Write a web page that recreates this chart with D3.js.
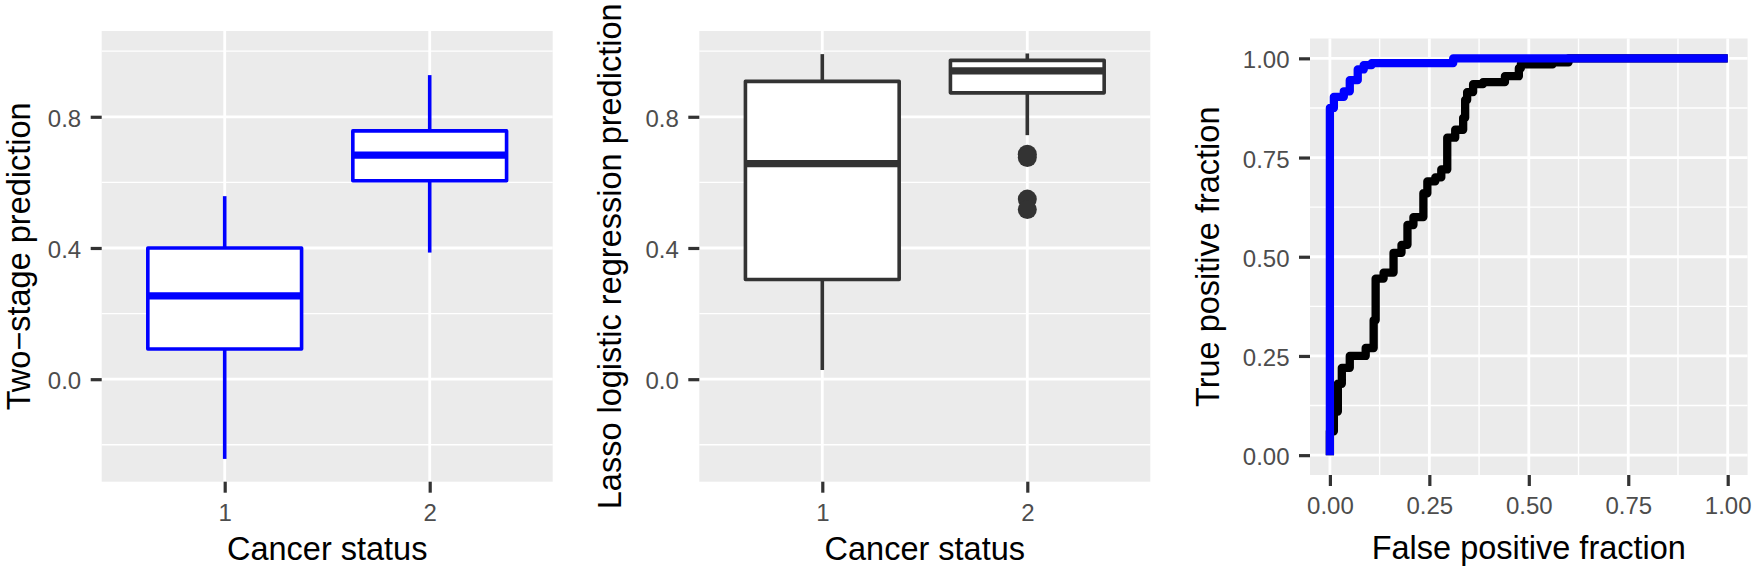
<!DOCTYPE html>
<html>
<head>
<meta charset="utf-8">
<script src="https://cdn.jsdelivr.net/npm/d3@7"></script>
<style>
  html, body { margin: 0; padding: 0; background: #fff; }
  svg { display: block; font-family: "Liberation Sans", Arial, Helvetica, sans-serif; }
</style>
</head>
<body>
<script>
// ---------------- data ----------------
const categories = ["1", "2"];

// Two-stage prediction boxplot (blue)
const twoStageLower  = [-0.243, 0.386];
const twoStageQ1     = [0.092, 0.605];
const twoStageMedian = [0.254, 0.683];
const twoStageQ3     = [0.400, 0.757];
const twoStageUpper  = [0.558, 0.927];

// Lasso logistic regression boxplot (dark grey)
const lassoLower  = [0.028, 0.744];
const lassoQ1     = [0.304, 0.873];
const lassoMedian = [0.657, 0.940];
const lassoQ3     = [0.908, 0.972];
const lassoUpper  = [0.991, 0.993];
const lassoOutlierCategory = ["2", "2", "2", "2"];
const lassoOutlierValues   = [0.686, 0.676, 0.549, 0.517];

const boxYTicks = [0.0, 0.4, 0.8];
const boxYMinor = [-0.2, 0.2, 0.6, 1.0];
const boxYDomain = [-0.3125, 1.0615];

// ROC curves
const rocTicks = [0, 0.25, 0.5, 0.75, 1];
const rocMinor = [0.125, 0.375, 0.625, 0.875];

const rocTwoStageFPR = [0, 0, 0.01, 0.01, 0.035, 0.035, 0.05, 0.05, 0.07, 0.07, 0.085, 0.085, 0.105, 0.105, 0.31, 0.31, 1.0];
const rocTwoStageTPR = [0, 0.875, 0.875, 0.903, 0.903, 0.917, 0.917, 0.945, 0.945, 0.972, 0.972, 0.983, 0.983, 0.988, 0.988, 1.0, 1.0];

const rocLassoFPR = [0, 0, 0.01, 0.01, 0.02, 0.02, 0.03, 0.03, 0.05, 0.05, 0.09, 0.09, 0.11, 0.11, 0.115, 0.115, 0.135, 0.135, 0.16, 0.16, 0.18, 0.18, 0.195, 0.195, 0.21, 0.21, 0.235, 0.235, 0.245, 0.245, 0.265, 0.265, 0.28, 0.28, 0.295, 0.295, 0.315, 0.315, 0.335, 0.335, 0.34, 0.34, 0.345, 0.345, 0.36, 0.36, 0.385, 0.385, 0.44, 0.44, 0.475, 0.475, 0.48, 0.48, 0.56, 0.56, 0.60, 0.60, 1.0];
const rocLassoTPR = [0, 0.06, 0.06, 0.11, 0.11, 0.18, 0.18, 0.22, 0.22, 0.25, 0.25, 0.27, 0.27, 0.34, 0.34, 0.445, 0.445, 0.46, 0.46, 0.51, 0.51, 0.53, 0.53, 0.58, 0.58, 0.60, 0.60, 0.66, 0.66, 0.69, 0.69, 0.70, 0.70, 0.72, 0.72, 0.80, 0.80, 0.82, 0.82, 0.85, 0.85, 0.895, 0.895, 0.915, 0.915, 0.935, 0.935, 0.94, 0.94, 0.955, 0.955, 0.975, 0.975, 0.985, 0.985, 0.99, 0.99, 1.0, 1.0];

// ---------------- layout & style ----------------
const W = 1752, H = 567;
const BG = "#EBEBEB";
const TICK_COL = "#333333";
const TICKLABEL_COL = "#4D4D4D";
const TICK_FS = 24, TITLE_FS = 32.5;
const GRID_MAJOR = 2.8, GRID_MINOR = 1.4;
const TICK_LEN = 11, TICK_W = 3.2;

const svg = d3.select("body").append("svg")
  .attr("width", W).attr("height", H)
  .attr("viewBox", `0 0 ${W} ${H}`);

svg.append("rect").attr("width", W).attr("height", H).attr("fill", "#fff");

function styleAxis(g) {
  g.select(".domain").remove();
  g.selectAll(".tick line").attr("stroke", TICK_COL).attr("stroke-width", TICK_W);
  g.selectAll(".tick text").attr("fill", TICKLABEL_COL)
    .style("font-size", TICK_FS + "px")
    .style("font-family", '"Liberation Sans", Arial, Helvetica, sans-serif');
}

function yAxis(g, y, ticks, fmt) {
  g.call(d3.axisLeft(y).tickValues(ticks).tickFormat(fmt).tickSize(TICK_LEN).tickPadding(9.5));
  styleAxis(g);
  g.selectAll(".tick text").attr("dy", "0.40em");
}
function xAxis(g, x, ticks, fmt) {
  const ax = d3.axisBottom(x).tickSize(TICK_LEN).tickPadding(11);
  if (ticks) ax.tickValues(ticks);
  if (fmt) ax.tickFormat(fmt);
  g.call(ax);
  styleAxis(g);
}

function yTitle(text, x, yc) {
  svg.append("text")
    .attr("transform", `translate(${x},${yc}) rotate(-90)`)
    .attr("text-anchor", "middle")
    .attr("fill", "#000")
    .style("font-size", TITLE_FS + "px")
    .text(text);
}
function xTitle(text, xc, y) {
  svg.append("text")
    .attr("x", xc).attr("y", y)
    .attr("text-anchor", "middle")
    .attr("fill", "#000")
    .style("font-size", TITLE_FS + "px")
    .text(text);
}

// ---------------- boxplot panels ----------------
function boxPanel(p, lower, q1, med, q3, upper, color, title, titleX, outCat, outVal) {
  const x = d3.scalePoint().domain(categories).range([p.x0, p.x1]).padding(0.6);
  const y = d3.scaleLinear().domain(boxYDomain).range([p.y1, p.y0]);
  const step = x.step();
  const bw = 0.75 * step;

  const g = svg.append("g");
  g.append("rect").attr("x", p.x0).attr("y", p.y0)
    .attr("width", p.x1 - p.x0).attr("height", p.y1 - p.y0).attr("fill", BG);

  g.selectAll(".minor").data(boxYMinor).join("line")
    .attr("x1", p.x0).attr("x2", p.x1)
    .attr("y1", d => y(d)).attr("y2", d => y(d))
    .attr("stroke", "#fff").attr("stroke-width", GRID_MINOR);
  g.selectAll(".major").data(boxYTicks).join("line")
    .attr("x1", p.x0).attr("x2", p.x1)
    .attr("y1", d => y(d)).attr("y2", d => y(d))
    .attr("stroke", "#fff").attr("stroke-width", GRID_MAJOR);
  g.selectAll(".vmajor").data(categories).join("line")
    .attr("x1", d => x(d)).attr("x2", d => x(d))
    .attr("y1", p.y0).attr("y2", p.y1)
    .attr("stroke", "#fff").attr("stroke-width", GRID_MAJOR);

  const idx = d3.range(categories.length);
  const LW = 3.6;
  // whiskers
  g.selectAll(".wu").data(idx).join("line")
    .attr("x1", i => x(categories[i])).attr("x2", i => x(categories[i]))
    .attr("y1", i => y(q3[i])).attr("y2", i => y(upper[i]))
    .attr("stroke", color).attr("stroke-width", LW);
  g.selectAll(".wl").data(idx).join("line")
    .attr("x1", i => x(categories[i])).attr("x2", i => x(categories[i]))
    .attr("y1", i => y(q1[i])).attr("y2", i => y(lower[i]))
    .attr("stroke", color).attr("stroke-width", LW);
  // boxes
  g.selectAll(".box").data(idx).join("rect")
    .attr("x", i => x(categories[i]) - bw / 2)
    .attr("width", bw)
    .attr("y", i => y(q3[i]))
    .attr("height", i => y(q1[i]) - y(q3[i]))
    .attr("fill", "#fff").attr("stroke", color).attr("stroke-width", LW)
    .attr("stroke-linejoin", "round");
  // medians
  g.selectAll(".med").data(idx).join("line")
    .attr("x1", i => x(categories[i]) - bw / 2).attr("x2", i => x(categories[i]) + bw / 2)
    .attr("y1", i => y(med[i])).attr("y2", i => y(med[i]))
    .attr("stroke", color).attr("stroke-width", LW * 2);
  // outliers
  if (outVal) {
    g.selectAll(".out").data(d3.range(outVal.length)).join("circle")
      .attr("cx", i => x(outCat[i])).attr("cy", i => y(outVal[i]))
      .attr("r", 9.5).attr("fill", color);
  }

  yAxis(svg.append("g").attr("transform", `translate(${p.x0},0)`), y, boxYTicks, d3.format(".1f"));
  xAxis(svg.append("g").attr("transform", `translate(0,${p.y1})`), x);

  yTitle(title, titleX, (p.y0 + p.y1) / 2);
  xTitle("Cancer status", (p.x0 + p.x1) / 2, 560);
}

const p1 = { x0: 101.7, x1: 552.7, y0: 31, y1: 481.7 };
const p2 = { x0: 699.3, x1: 1150.3, y0: 31, y1: 481.7 };
boxPanel(p1, twoStageLower, twoStageQ1, twoStageMedian, twoStageQ3, twoStageUpper, "#0000FF", "Two\u2212stage prediction", 29.5);
boxPanel(p2, lassoLower, lassoQ1, lassoMedian, lassoQ3, lassoUpper, "#333333", "Lasso logistic regression prediction", p2.x0 - 78, lassoOutlierCategory, lassoOutlierValues);

// ---------------- ROC panel ----------------
(function () {
  const p = { x0: 1310, x1: 1747.6, y0: 38.5, y1: 475 };
  const x = d3.scaleLinear().domain([-0.05, 1.05]).range([p.x0, p.x1]);
  const y = d3.scaleLinear().domain([-0.05, 1.05]).range([p.y1, p.y0]);
  const g = svg.append("g");
  g.append("rect").attr("x", p.x0).attr("y", p.y0)
    .attr("width", p.x1 - p.x0).attr("height", p.y1 - p.y0).attr("fill", BG);

  g.selectAll(".hmin").data(rocMinor).join("line")
    .attr("x1", p.x0).attr("x2", p.x1).attr("y1", d => y(d)).attr("y2", d => y(d))
    .attr("stroke", "#fff").attr("stroke-width", GRID_MINOR);
  g.selectAll(".vmin").data(rocMinor).join("line")
    .attr("y1", p.y0).attr("y2", p.y1).attr("x1", d => x(d)).attr("x2", d => x(d))
    .attr("stroke", "#fff").attr("stroke-width", GRID_MINOR);
  g.selectAll(".hmaj").data(rocTicks).join("line")
    .attr("x1", p.x0).attr("x2", p.x1).attr("y1", d => y(d)).attr("y2", d => y(d))
    .attr("stroke", "#fff").attr("stroke-width", GRID_MAJOR);
  g.selectAll(".vmaj").data(rocTicks).join("line")
    .attr("y1", p.y0).attr("y2", p.y1).attr("x1", d => x(d)).attr("x2", d => x(d))
    .attr("stroke", "#fff").attr("stroke-width", GRID_MAJOR);

  function curve(fpr, tpr, color) {
    const line = d3.line().x(i => x(fpr[i])).y(i => y(tpr[i]));
    g.append("path").attr("d", line(d3.range(fpr.length)))
      .attr("fill", "none").attr("stroke", color).attr("stroke-width", 8.3)
      .attr("stroke-linejoin", "round").attr("stroke-linecap", "butt");
  }
  curve(rocLassoFPR, rocLassoTPR, "#000000");
  curve(rocTwoStageFPR, rocTwoStageTPR, "#0000FF");

  yAxis(svg.append("g").attr("transform", `translate(${p.x0},0)`), y, rocTicks, d3.format(".2f"));
  xAxis(svg.append("g").attr("transform", `translate(0,${p.y1})`), x, rocTicks, d3.format(".2f"));

  yTitle("True positive fraction", p.x0 - 91, (p.y0 + p.y1) / 2);
  xTitle("False positive fraction", (p.x0 + p.x1) / 2, 559);
})();
</script>
</body>
</html>
